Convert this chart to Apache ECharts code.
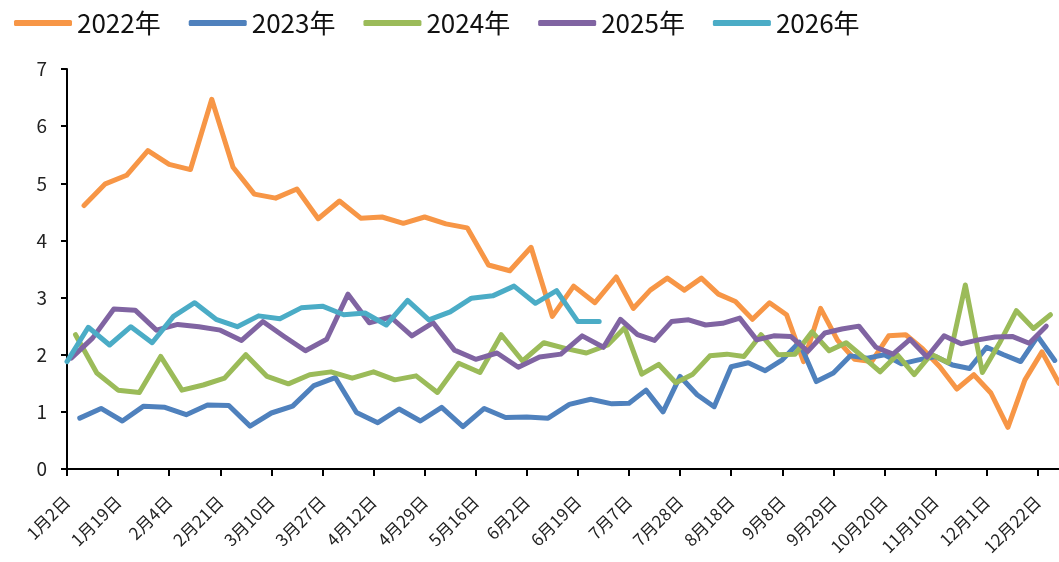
<!DOCTYPE html>
<html><head><meta charset="utf-8">
<script src="https://cdn.jsdelivr.net/npm/echarts@6/dist/echarts.min.js"></script>
<style>html,body{margin:0;padding:0;background:#fff}#c{width:1059px;height:562px}</style>
</head><body><div id="c"></div>
<script>
// Series names, weekly start dates (one point per week) and values
const seriesNames = ['2022年', '2023年', '2024年', '2025年', '2026年'];
const startDates = ['2022-01-07', '2023-01-06', '2024-01-05', '2025-01-03', '2026-01-02'];
const colors = ['#F79646', '#4F81BD', '#9BBB59', '#8064A2', '#4BACC6'];

const v2022 = [4.61, 4.99, 5.14, 5.57, 5.33, 5.24, 6.47, 5.28, 4.81, 4.74, 4.90, 4.38, 4.69, 4.39, 4.41, 4.30, 4.41, 4.29, 4.22, 3.57,
  3.47, 3.88, 2.67, 3.20, 2.91, 3.36, 2.81, 3.13, 3.34, 3.13, 3.34, 3.06, 2.93, 2.62, 2.91, 2.70, 1.88, 2.81, 2.25, 1.92,
  1.88, 2.33, 2.35, 2.10, 1.79, 1.40, 1.65, 1.33, 0.73, 1.56, 2.05, 1.50];
const v2023 = [0.89, 1.06, 0.84, 1.10, 1.08, 0.95, 1.12, 1.11, 0.75, 0.98, 1.10, 1.46, 1.60, 0.99, 0.81, 1.05, 0.84, 1.08, 0.74, 1.06,
  0.90, 0.91, 0.89, 1.13, 1.22, 1.14, 1.15, 1.38, 1.00, 1.62, 1.30, 1.09, 1.79, 1.86, 1.72, 1.91, 2.22, 1.53, 1.68, 1.98,
  1.94, 2.00, 1.84, 1.91, 1.97, 1.82, 1.76, 2.13, 2.00, 1.88, 2.32, 1.90];
const v2024 = [2.35, 1.68, 1.38, 1.34, 1.97, 1.38, 1.47, 1.59, 2.00, 1.62, 1.49, 1.65, 1.70, 1.59, 1.70, 1.56, 1.63, 1.34, 1.85, 1.69,
  2.35, 1.89, 2.21, 2.11, 2.03, 2.17, 2.47, 1.66, 1.83, 1.51, 1.66, 1.98, 2.01, 1.97, 2.35, 2.00, 2.01, 2.40, 2.07, 2.21,
  1.96, 1.70, 2.00, 1.65, 2.01, 1.86, 3.22, 1.69, 2.20, 2.77, 2.46, 2.70];
const v2025 = [1.94, 2.29, 2.80, 2.78, 2.43, 2.53, 2.49, 2.43, 2.25, 2.58, 2.32, 2.07, 2.27, 3.06, 2.56, 2.66, 2.33, 2.56, 2.08, 1.92,
  2.03, 1.78, 1.96, 2.01, 2.33, 2.13, 2.62, 2.35, 2.25, 2.58, 2.61, 2.52, 2.55, 2.64, 2.26, 2.33, 2.32, 2.06, 2.38, 2.45,
  2.50, 2.13, 2.01, 2.27, 1.96, 2.33, 2.19, 2.26, 2.31, 2.32, 2.20, 2.50];
const v2026 = [1.88, 2.48, 2.17, 2.49, 2.21, 2.67, 2.91, 2.62, 2.49, 2.68, 2.63, 2.82, 2.85, 2.70, 2.73, 2.52, 2.95, 2.61, 2.75, 2.99,
  3.03, 3.20, 2.90, 3.12, 2.58, 2.58];

const yTicks = { min: 0, max: 7, interval: 1 };
const labelEvery = 12; // one x label per 12 date categories

// Build the date categories (union of every year's weekly dates, as month-day)
const allVals = [v2022, v2023, v2024, v2025, v2026];
const pts = allVals.map((vals, s) => {
  const [y, m, d] = startDates[s].split('-').map(Number);
  return vals.map((v, k) => {
    const dt = new Date(Date.UTC(y, m - 1, d + 7 * k));
    const mm = dt.getUTCMonth() + 1, dd = dt.getUTCDate();
    return { key: mm * 100 + dd, label: mm + '月' + dd + '日', v };
  });
});
const keyMap = new Map();
pts.flat().forEach(p => keyMap.set(p.key, p.label));
const keys = [...keyMap.keys()].sort((a, b) => a - b);
const categories = keys.map(k => keyMap.get(k));
const idx = new Map(keys.map((k, i) => [k, i]));
const seriesData = pts.map(ps => {
  const arr = new Array(keys.length).fill(null);
  ps.forEach(p => { arr[idx.get(p.key)] = p.v; });
  return arr;
});

const FONT = '"Noto Sans CJK SC", "Noto Sans", sans-serif';
const chart = echarts.init(document.getElementById('c'), null, { renderer: 'canvas' });
chart.setOption({
  animation: false,
  backgroundColor: '#fff',
  color: colors,
  legend: {
    data: seriesNames,
    left: 9, top: 5,
    icon: 'roundRect',
    itemWidth: 58, itemHeight: 6, itemGap: 28,
    textStyle: { fontFamily: FONT, fontSize: 26, color: '#111' }
  },
  grid: { left: 67, right: 0, top: 69, bottom: 93, containLabel: false },
  xAxis: {
    type: 'category',
    data: categories,
    boundaryGap: false,
    axisLine: { lineStyle: { color: '#000', width: 2 } },
    axisTick: { show: true, interval: labelEvery - 1, length: 7, lineStyle: { color: '#000', width: 2 } },
    axisLabel: { interval: labelEvery - 1, rotate: 45, margin: 30, fontFamily: FONT, fontSize: 17, color: '#222' },
    splitLine: { show: false }
  },
  yAxis: {
    type: 'value',
    min: yTicks.min, max: yTicks.max, interval: yTicks.interval,
    axisLine: { show: true, lineStyle: { color: '#000', width: 2 } },
    axisTick: { show: true, length: 6, lineStyle: { color: '#000', width: 2 } },
    axisLabel: { margin: 20, fontFamily: FONT, fontSize: 19, color: '#222' },
    splitLine: { show: false }
  },
  series: seriesNames.map((name, i) => ({
    name, type: 'line', data: seriesData[i],
    connectNulls: true, showSymbol: false, symbol: 'none',
    lineStyle: { width: 5, color: colors[i], cap: 'round', join: 'round' },
    itemStyle: { color: colors[i] },
    emphasis: { disabled: true }
  }))
});
</script></body></html>
